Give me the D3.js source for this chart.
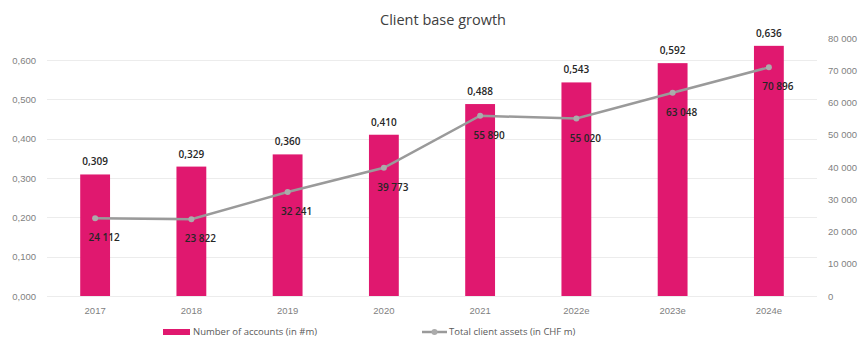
<!doctype html>
<html lang="en">
<head>
  <meta charset="utf-8">
  <title>Client base growth</title>
  <style>
    body { margin: 0; background: #fff; }
    svg { display: block; font-family: "Open Sans", sans-serif; }
    .tick text { fill: #7f7f7f; font-size: 9.5px; }
    .grid line { stroke: #ececec; }
    .title { fill: #404040; font-size: 14.5px; }
    .barLabel, .lineLabel { fill: #262626; font-size: 10px; font-weight: 600; }
    .legend text { fill: #595959; font-size: 9.5px; }
  </style>
</head>
<body>
  <div class="chart"></div>
  <script src="https://d3js.org/d3.v7.min.js"></script>
  <script>
    'use strict';

    const years = ['2017', '2018', '2019', '2020', '2021', '2022e', '2023e', '2024e'];
    const accounts = [0.309, 0.329, 0.360, 0.410, 0.488, 0.543, 0.592, 0.636];
    const assets = [24112, 23822, 32241, 39773, 55890, 55020, 63048, 70896];
    const leftTicks = [0, 0.1, 0.2, 0.3, 0.4, 0.5, 0.6];
    const rightTicks = [0, 10000, 20000, 30000, 40000, 50000, 60000, 70000, 80000];

    const width = 861;
    const height = 337;
    const plot = {left: 47, right: 817, bottom: 296};

    const locale = d3.formatLocale({decimal: ',', thousands: ' ', grouping: [3], currency: ['', '']});
    const fmtLeft = locale.format('.3f');
    const fmtRight = locale.format(',d');

    const data = years.map((y, i) => ({year: y, accounts: accounts[i], assets: assets[i]}));

    const x = d3.scaleBand()
      .domain(years)
      .range([plot.left, plot.right])
      .paddingInner(0.69)
      .paddingOuter(0.345);

    const yLeft = d3.scaleLinear().domain([0, 0.6]).range([plot.bottom, 60]);
    const yRight = d3.scaleLinear().domain([0, 80000]).range([plot.bottom, 38]);

    const svg = d3.select('.chart').append('svg')
      .attr('width', width)
      .attr('height', height);

    svg.append('text')
      .attr('class', 'title')
      .attr('x', 443)
      .attr('y', 25)
      .attr('text-anchor', 'middle')
      .text('Client base growth');

    // gridlines
    svg.append('g')
      .attr('class', 'grid')
      .selectAll('line')
      .data(leftTicks)
      .join('line')
      .attr('x1', plot.left)
      .attr('x2', plot.right)
      .attr('y1', d => Math.round(yLeft(d)) + 0.5)
      .attr('y2', d => Math.round(yLeft(d)) + 0.5)
      .attr('stroke', d => d === 0 ? '#d9d9d9' : '#ececec');

    // left axis
    const gl = svg.append('g')
      .attr('transform', 'translate(36,0)')
      .call(d3.axisLeft(yLeft).tickValues(leftTicks).tickFormat(fmtLeft).tickSize(0).tickPadding(0));
    gl.select('.domain').remove();

    // right axis
    const gr = svg.append('g')
      .attr('transform', 'translate(828,0)')
      .call(d3.axisRight(yRight).tickValues(rightTicks).tickFormat(fmtRight).tickSize(0).tickPadding(0));
    gr.select('.domain').remove();

    // x axis
    const gx = svg.append('g')
      .attr('transform', `translate(0,${plot.bottom + 9})`)
      .call(d3.axisBottom(x).tickSize(0).tickPadding(0));
    gx.select('.domain').remove();
    gx.selectAll('text').attr('dy', '0.9em');

    // bars
    svg.append('g')
      .selectAll('rect')
      .data(data)
      .join('rect')
      .attr('x', d => x(d.year))
      .attr('y', d => yLeft(d.accounts))
      .attr('width', x.bandwidth())
      .attr('height', d => plot.bottom - yLeft(d.accounts))
      .attr('fill', '#e0186f');

    svg.append('g')
      .selectAll('text')
      .data(data)
      .join('text')
      .attr('class', 'barLabel')
      .attr('x', d => x(d.year) + x.bandwidth() / 2)
      .attr('y', d => yLeft(d.accounts) - 9)
      .attr('text-anchor', 'middle')
      .text(d => fmtLeft(d.accounts));

    // line
    const cx = d => x(d.year) + x.bandwidth() / 2;
    const line = d3.line()
      .x(cx)
      .y(d => yRight(d.assets));

    svg.append('path')
      .datum(data)
      .attr('d', line)
      .attr('fill', 'none')
      .attr('stroke', '#9a9a9a')
      .attr('stroke-width', 2.5);

    svg.append('g')
      .selectAll('circle')
      .data(data)
      .join('circle')
      .attr('cx', cx)
      .attr('cy', d => yRight(d.assets))
      .attr('r', 3)
      .attr('fill', '#ababab');

    svg.append('g')
      .selectAll('text')
      .data(data)
      .join('text')
      .attr('class', 'lineLabel')
      .attr('x', d => cx(d) + 9)
      .attr('y', d => yRight(d.assets) + 23)
      .attr('text-anchor', 'middle')
      .text(d => fmtRight(d.assets));

    // legend
    const legend = svg.append('g').attr('class', 'legend');
    legend.append('rect')
      .attr('x', 163).attr('y', 329)
      .attr('width', 27).attr('height', 6)
      .attr('fill', '#e0186f');
    legend.append('text')
      .attr('x', 193).attr('y', 335)
      .text('Number of accounts (in #m)');
    legend.append('line')
      .attr('x1', 422).attr('x2', 447)
      .attr('y1', 332).attr('y2', 332)
      .attr('stroke', '#9a9a9a').attr('stroke-width', 2.5);
    legend.append('circle')
      .attr('cx', 434.5).attr('cy', 332).attr('r', 3)
      .attr('fill', '#ababab');
    legend.append('text')
      .attr('x', 449).attr('y', 335)
      .text('Total client assets (in CHF m)');
  </script>
</body>
</html>
